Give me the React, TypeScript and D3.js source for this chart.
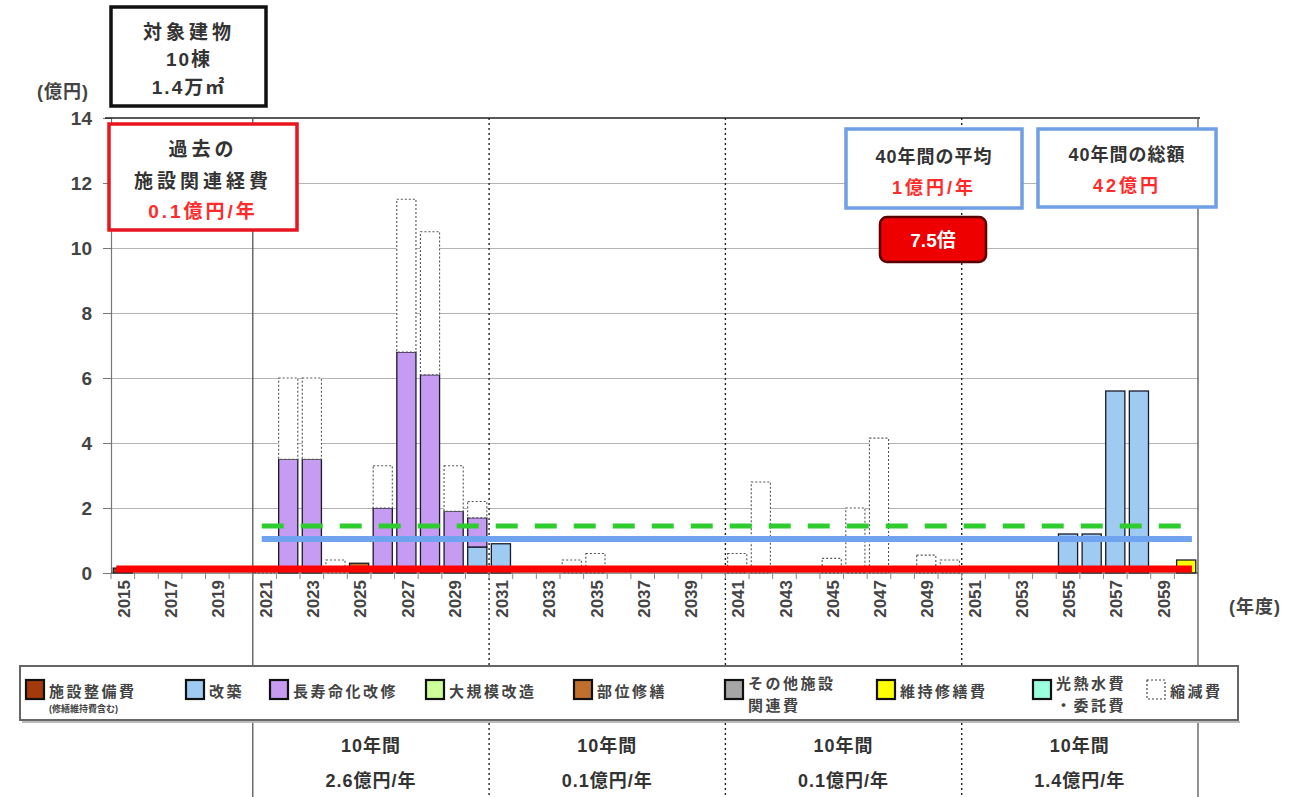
import React from 'react';
import * as d3 from 'd3';

// fiscal years on the x axis
const years = [
  2015, 2016, 2017, 2018, 2019, 2020, 2021, 2022, 2023, 2024,
  2025, 2026, 2027, 2028, 2029, 2030, 2031, 2032, 2033, 2034,
  2035, 2036, 2037, 2038, 2039, 2040, 2041, 2042, 2043, 2044,
  2045, 2046, 2047, 2048, 2049, 2050, 2051, 2052, 2053, 2054,
  2055, 2056, 2057, 2058, 2059, 2060,
];

// [year, 億円]
const seibi: [number, number][] = [[2015, 0.15]];
const kaichiku: [number, number][] = [[2030, 0.8], [2031, 0.9], [2055, 1.2], [2056, 1.2], [2057, 5.6], [2058, 5.6]];
const chojumyo: [number, number][] = [[2022, 3.5], [2023, 3.5], [2026, 2.0], [2027, 6.8], [2028, 6.1], [2029, 1.9], [2030, 0.9]];
const daikibo: [number, number][] = [];
const bui: [number, number][] = [[2025, 0.3]];
const sonota: [number, number][] = [];
const iji: [number, number][] = [[2060, 0.4]];
const konetsu: [number, number][] = [];
const shukugen: [number, number][] = [
  [2021, 0.2], [2022, 2.5], [2023, 2.5], [2024, 0.4], [2026, 1.3], [2027, 4.7], [2028, 4.4],
  [2029, 1.4], [2030, 0.5], [2034, 0.4], [2035, 0.6], [2041, 0.6], [2042, 2.8], [2045, 0.45],
  [2046, 2.0], [2047, 4.15], [2049, 0.55], [2050, 0.4],
];

const seriesNames = ['施設整備費', '改築', '長寿命化改修', '大規模改造', '部位修繕', 'その他施設関連費', '維持修繕費', '光熱水費・委託費', '縮減費'];
const seriesValues = [seibi, kaichiku, chojumyo, daikibo, bui, sonota, iji, konetsu, shukugen];
const seriesColors = ['#a33a0c', '#9fcbf3', '#c59cf2', '#ccff99', '#c0702c', '#a6a6a6', '#ffff00', '#99ffdd', '#ffffff'];

// reference lines (億円/年)
const pastAverage = 0.12;
const average40 = 1.05;
const renewAverage = 1.45;

const yTicks = [0, 2, 4, 6, 8, 10, 12, 14];
const decadeStarts = [2021, 2031, 2041, 2051];
const decadeValues = ['2.6億円/年', '0.1億円/年', '0.1億円/年', '1.4億円/年'];

// legend: main label, second line, small note
const legendLabels: [string, string, string][] = [
  ['施設整備費', '', '(修繕維持費含む)'],
  ['改築', '', ''],
  ['長寿命化改修', '', ''],
  ['大規模改造', '', ''],
  ['部位修繕', '', ''],
  ['その他施設', '関連費', ''],
  ['維持修繕費', '', ''],
  ['光熱水費', '・委託費', ''],
  ['縮減費', '', ''],
];

const W = 1305;
const H = 797;
const font = "'Liberation Sans','Noto Sans CJK JP',sans-serif";

export default function App() {
  const ref = React.useRef<SVGSVGElement>(null);

  React.useEffect(() => {
    const svg = d3.select(ref.current);
    svg.selectAll('*').remove();

    const left = 111, right = 1198, top = 118, bottom = 573;

    const x = d3.scaleBand<number>().domain(years).range([left, right])
      .paddingInner(0.19).paddingOuter(0.095);
    const y = d3.scaleLinear().domain([0, 14]).range([bottom, top]);
    const step = x.step();
    const bw = x.bandwidth();
    const edge = (yr: number) => (x(yr) as number) - step * 0.095;

    svg.append('rect').attr('width', W).attr('height', H).attr('fill', '#fff');

    // horizontal gridlines
    svg.append('g')
      .attr('transform', `translate(${left},0)`)
      .call(d3.axisLeft(y).tickValues(yTicks.slice(1, -1)).tickSize(-(right - left)).tickFormat(() => ''))
      .call(g => g.select('.domain').remove())
      .call(g => g.selectAll('line').attr('stroke', '#b4b4b4').attr('stroke-width', 1.2));

    // y axis
    svg.append('g')
      .attr('transform', `translate(${left},0)`)
      .call(d3.axisLeft(y).tickValues(yTicks).tickSize(8).tickPadding(11))
      .call(g => g.select('.domain').attr('stroke', '#777').attr('stroke-width', 1.2))
      .call(g => g.selectAll('line').attr('stroke', '#777'))
      .call(g => g.selectAll('text').attr('font-family', font).attr('font-size', 19)
        .attr('font-weight', 'bold').attr('fill', '#444'));

    // top frame
    svg.append('line').attr('x1', left - 6).attr('x2', right + 2).attr('y1', y(14)).attr('y2', y(14))
      .attr('stroke', '#222').attr('stroke-width', 1.6);

    // decade separators
    decadeStarts.forEach((yr, i) => {
      svg.append('line')
        .attr('x1', edge(yr)).attr('x2', edge(yr)).attr('y1', top).attr('y2', H)
        .attr('stroke', i === 0 ? '#555' : '#222')
        .attr('stroke-width', i === 0 ? 1.3 : 1.4)
        .attr('stroke-dasharray', i === 0 ? null : '2,3');
    });
    svg.append('line').attr('x1', right).attr('x2', right).attr('y1', top).attr('y2', H)
      .attr('stroke', '#555').attr('stroke-width', 1.3);

    // stacked bars
    const table = years.map(yr => {
      const row: Record<string, number> = { year: yr };
      seriesNames.forEach((name, i) => {
        const hit = seriesValues[i].find(d => d[0] === yr);
        row[name] = hit ? hit[1] : 0;
      });
      return row;
    });
    const stacked = d3.stack<Record<string, number>>().keys(seriesNames)(table);

    stacked.forEach((layer, i) => {
      const dotted = seriesNames[i] === '縮減費';
      svg.append('g').selectAll('rect')
        .data(layer.filter(d => d[1] - d[0] > 0))
        .enter().append('rect')
        .attr('x', d => x(d.data.year) as number)
        .attr('width', bw)
        .attr('y', d => y(d[1]))
        .attr('height', d => y(d[0]) - y(d[1]))
        .attr('fill', seriesColors[i])
        .attr('stroke', dotted ? '#555' : '#1a1a2a')
        .attr('stroke-width', dotted ? 1.1 : 1.3)
        .attr('stroke-dasharray', dotted ? '2,2' : null);
    });

    // x axis line, ticks and labels
    svg.append('line').attr('x1', left).attr('x2', right).attr('y1', bottom).attr('y2', bottom)
      .attr('stroke', '#333').attr('stroke-width', 1.2);
    svg.append('g').selectAll('line')
      .data(years)
      .enter().append('line')
      .attr('x1', d => edge(d)).attr('x2', d => edge(d))
      .attr('y1', bottom).attr('y2', bottom + 6)
      .attr('stroke', '#888');
    svg.append('g').selectAll('text')
      .data(years.filter((_, i) => i % 2 === 0))
      .enter().append('text')
      .attr('transform', d => `translate(${(x(d) as number) + bw / 2 + 1},${bottom + 7}) rotate(-90)`)
      .attr('text-anchor', 'end')
      .attr('dy', '0.36em')
      .attr('font-family', font).attr('font-size', 17).attr('font-weight', 'bold').attr('fill', '#444')
      .text(d => d);

    // average lines
    const lineStart = (x(2021) as number) + bw * 0.35;
    const lineEnd = (x(2060) as number) + bw * 0.8;
    svg.append('line').attr('x1', lineStart).attr('x2', lineEnd)
      .attr('y1', y(renewAverage)).attr('y2', y(renewAverage))
      .attr('stroke', '#2ecc2e').attr('stroke-width', 5).attr('stroke-dasharray', '22,17');
    svg.append('line').attr('x1', lineStart).attr('x2', lineEnd)
      .attr('y1', y(average40)).attr('y2', y(average40))
      .attr('stroke', '#6fa3f0').attr('stroke-width', 6);
    svg.append('line').attr('x1', (x(2015) as number) + 3).attr('x2', lineEnd)
      .attr('y1', y(pastAverage)).attr('y2', y(pastAverage))
      .attr('stroke', '#ff0000').attr('stroke-width', 7);

    // annotation boxes
    const box = (x0: number, y0: number, w: number, h: number, stroke: string, sw: number) =>
      svg.append('rect').attr('x', x0).attr('y', y0).attr('width', w).attr('height', h)
        .attr('fill', '#fff').attr('stroke', stroke).attr('stroke-width', sw);
    const label = (tx: number, ty: number, s: string, color: string, size: number, spacing = 2) =>
      svg.append('text').attr('x', tx).attr('y', ty).attr('text-anchor', 'middle')
        .attr('font-family', font).attr('font-size', size).attr('font-weight', 'bold')
        .attr('letter-spacing', spacing).attr('fill', color).text(s);

    box(111, 7, 155, 99, '#111', 3.5);
    label(189, 39, '対象建物', '#333', 19, 4);
    label(189, 66, '10棟', '#333', 19, 2);
    label(189, 94, '1.4万㎡', '#333', 19, 2);

    label(63, 98, '(億円)', '#444', 18, 1);

    box(109, 124, 188, 106, '#e8141e', 3.5);
    label(203, 156, '過去の', '#333', 19, 4);
    label(203, 188, '施設関連経費', '#333', 19, 4);
    label(203, 218, '0.1億円/年', '#ff2a2a', 19, 3);

    box(846, 129, 176, 79, '#6f9fe6', 3.5);
    label(934, 163, '40年間の平均', '#333', 18, 1);
    label(934, 194, '1億円/年', '#ff2a2a', 18, 3);

    box(1038, 129, 178, 78, '#6f9fe6', 3.5);
    label(1127, 161, '40年間の総額', '#333', 18, 1);
    label(1127, 192, '42億円', '#ff2a2a', 18, 3);

    svg.append('rect').attr('x', 880).attr('y', 217).attr('width', 106).attr('height', 45).attr('rx', 7)
      .attr('fill', '#ee0000').attr('stroke', '#5a0000').attr('stroke-width', 2.5);
    label(933, 247, '7.5倍', '#fff', 19, 0);

    label(1255, 613, '(年度)', '#444', 18, 1);

    // legend
    const legX = [26, 186, 270, 426, 574, 725, 877, 1033, 1147];
    svg.append('rect').attr('x', 20).attr('y', 666).attr('width', 1218).attr('height', 54)
      .attr('fill', '#fff').attr('stroke', '#666').attr('stroke-width', 2);
    svg.append('line').attr('x1', 22).attr('x2', 1240).attr('y1', 722).attr('y2', 722)
      .attr('stroke', '#bbb').attr('stroke-width', 2);
    legendLabels.forEach(([main, second, note], i) => {
      const lx = legX[i];
      const dotted = seriesNames[i] === '縮減費';
      svg.append('rect').attr('x', lx).attr('y', 680).attr('width', 18).attr('height', 19)
        .attr('fill', seriesColors[i]).attr('stroke', dotted ? '#444' : '#111')
        .attr('stroke-width', dotted ? 1.2 : 2.2).attr('stroke-dasharray', dotted ? '2,2' : null);
      const tx = lx + 23;
      const ty = second ? 689 : 697;
      svg.append('text').attr('x', tx).attr('y', ty).attr('font-family', font).attr('font-size', 15)
        .attr('font-weight', 'bold').attr('letter-spacing', 2.5).attr('fill', '#444').text(main);
      if (second) {
        svg.append('text').attr('x', tx).attr('y', 711).attr('font-family', font).attr('font-size', 15)
          .attr('font-weight', 'bold').attr('letter-spacing', 2.5).attr('fill', '#444').text(second);
      }
      if (note) {
        svg.append('text').attr('x', tx).attr('y', 712).attr('font-family', font).attr('font-size', 9)
          .attr('font-weight', 'bold').attr('fill', '#444').text(note);
      }
    });

    // decade summaries
    decadeStarts.forEach((yr, i) => {
      const end = i < decadeStarts.length - 1 ? edge(decadeStarts[i + 1]) : right;
      const cx = (edge(yr) + end) / 2;
      label(cx, 752, '10年間', '#333', 18, 1);
      label(cx, 787, decadeValues[i], '#333', 18, 1);
    });
  }, []);

  return (
    <svg ref={ref} width={W} height={H}
      style={{ position: 'absolute', top: 0, left: 0, display: 'block' }} />
  );
}
